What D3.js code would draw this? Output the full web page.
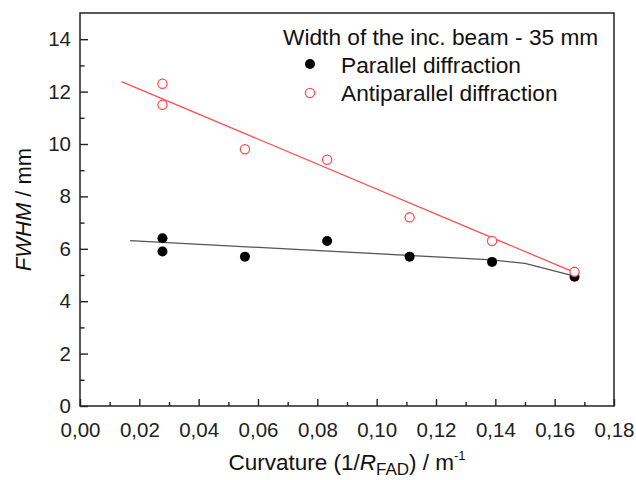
<!DOCTYPE html>
<html>
<head>
<meta charset="utf-8">
<script src="https://cdn.jsdelivr.net/npm/d3@7"></script>
<style>
  body { margin: 0; background: #fff; }
  svg { display: block; font-family: 'Liberation Sans', Arial, sans-serif; }
</style>
</head>
<body>
<div id="chart"></div>
<script>
/* FWHM vs curvature - parallel / antiparallel diffraction */

// Measured points (curvature 1/R_FAD in m^-1, FWHM in mm)
const curvature = [0.0278, 0.0278, 0.0556, 0.0833, 0.1111, 0.1389, 0.1667];
const parallel = [6.4, 5.9, 5.7, 6.3, 5.7, 5.5, 4.93];
const antiparallel = [12.3, 11.5, 9.8, 9.4, 7.2, 6.3, 5.12];

// Fit lines
const fitParallelX = [0.0169, 0.1389, 0.15, 0.1667];
const fitParallelY = [6.31, 5.58, 5.44, 4.96];
const fitAntiX = [0.014, 0.1667];
const fitAntiY = [12.38, 5.1];

// Tick values
const xTicks = [0, 0.02, 0.04, 0.06, 0.08, 0.10, 0.12, 0.14, 0.16, 0.18];
const xMinor = [0.01, 0.03, 0.05, 0.07, 0.09, 0.11, 0.13, 0.15, 0.17];
const yTicks = [0, 2, 4, 6, 8, 10, 12, 14];
const yMinor = [1, 3, 5, 7, 9, 11, 13];

const legendTitle = 'Width of the inc. beam - 35 mm';
const seriesNames = ['Parallel diffraction', 'Antiparallel diffraction'];

const colors = { frame: '#222', black: '#000', fitBlack: '#555', red: '#ff5050' };

const width = 636, height = 480;
const margin = { top: 13, right: 22, bottom: 74, left: 80 };

const svg = d3.select('#chart').append('svg')
  .attr('width', width)
  .attr('height', height);

svg.append('rect').attr('width', width).attr('height', height).attr('fill', '#fff');

const x = d3.scaleLinear().domain([0, 0.18]).range([margin.left, width - margin.right]);
const y = d3.scaleLinear().domain([0, 15]).range([height - margin.bottom, margin.top]);

const fmt = d => d3.format('.2f')(d).replace('.', ',');

// Axes (ticks inward)
const xAxis = svg.append('g')
  .attr('transform', `translate(0,${y(0)})`)
  .call(d3.axisBottom(x).tickValues(xTicks).tickSize(-7).tickPadding(16).tickFormat(fmt));
xAxis.append('g')
  .call(d3.axisBottom(x).tickValues(xMinor).tickSize(-4).tickFormat(''));

const yAxis = svg.append('g')
  .attr('transform', `translate(${x(0)},0)`)
  .call(d3.axisLeft(y).tickValues(yTicks).tickSize(-8).tickPadding(9).tickFormat(d3.format('d')));
yAxis.append('g')
  .call(d3.axisLeft(y).tickValues(yMinor).tickSize(-4.5).tickFormat(''));

svg.selectAll('.domain').remove();
svg.selectAll('.tick line').attr('stroke', colors.frame).attr('stroke-width', 1.4);
svg.selectAll('.tick text')
  .attr('fill', '#222')
  .style('font-size', '20.5px');

// Frame
svg.append('rect')
  .attr('x', x(0)).attr('y', y(15))
  .attr('width', x(0.18) - x(0)).attr('height', y(0) - y(15))
  .attr('fill', 'none')
  .attr('stroke', colors.frame)
  .attr('stroke-width', 1.5);

// Fit lines
const line = d3.line().x(d => x(d[0])).y(d => y(d[1]));

svg.append('path')
  .datum(d3.zip(fitParallelX, fitParallelY))
  .attr('d', line)
  .attr('fill', 'none')
  .attr('stroke', colors.fitBlack)
  .attr('stroke-width', 1.3);

svg.append('path')
  .datum(d3.zip(fitAntiX, fitAntiY))
  .attr('d', line)
  .attr('fill', 'none')
  .attr('stroke', colors.red)
  .attr('stroke-width', 1.3);

// Points
svg.selectAll('.pt-par')
  .data(d3.zip(curvature, parallel))
  .enter().append('circle')
  .attr('cx', d => x(d[0]))
  .attr('cy', d => y(d[1]))
  .attr('r', 5)
  .attr('fill', colors.black);

svg.selectAll('.pt-anti')
  .data(d3.zip(curvature, antiparallel))
  .enter().append('circle')
  .attr('cx', d => x(d[0]))
  .attr('cy', d => y(d[1]))
  .attr('r', 4.6)
  .attr('fill', '#fff')
  .attr('stroke', colors.red)
  .attr('stroke-width', 1.3);

// Legend
const legend = svg.append('g').style('font-size', '22.7px').attr('fill', '#111');

legend.append('text').attr('x', 283).attr('y', 45).text(legendTitle);

legend.append('circle').attr('cx', 310).attr('cy', 64).attr('r', 5).attr('fill', colors.black);
legend.append('text').attr('x', 341).attr('y', 72.5).text(seriesNames[0]);

legend.append('circle').attr('cx', 310).attr('cy', 93).attr('r', 4.6)
  .attr('fill', '#fff').attr('stroke', colors.red).attr('stroke-width', 1.3);
legend.append('text').attr('x', 341).attr('y', 101).text(seriesNames[1]);

// Axis titles
const xTitle = svg.append('text')
  .attr('x', (x(0) + x(0.18)) / 2)
  .attr('y', 470)
  .attr('text-anchor', 'middle')
  .attr('fill', '#111')
  .style('font-size', '22.5px');
xTitle.append('tspan').text('Curvature (1/');
xTitle.append('tspan').style('font-style', 'italic').text('R');
xTitle.append('tspan').attr('dy', 5).style('font-size', '17px').text('FAD');
xTitle.append('tspan').attr('dy', -5).text(') / m');
xTitle.append('tspan').attr('dy', -10).style('font-size', '13px').text('-1');

const yTitle = svg.append('text')
  .attr('transform', `translate(31,${(y(0) + y(15)) / 2}) rotate(-90)`)
  .attr('text-anchor', 'middle')
  .attr('fill', '#111')
  .style('font-size', '22px');
yTitle.append('tspan').style('font-style', 'italic').text('FWHM');
yTitle.append('tspan').text(' / mm');
</script>
</body>
</html>
